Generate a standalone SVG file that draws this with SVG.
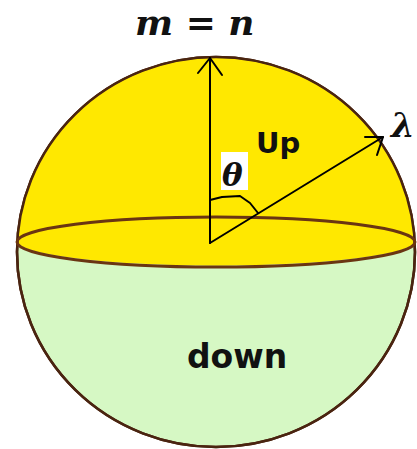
<svg xmlns="http://www.w3.org/2000/svg" width="417" height="449" viewBox="0 0 417 449">
<style>
.sph{stroke:#4a2410;stroke-width:2.5}
.eq{fill:none;stroke:#6a3512;stroke-width:3}
.ln{fill:none;stroke:#000;stroke-width:2;stroke-linecap:round;stroke-linejoin:round}
.math{font-family:"DejaVu Serif",serif;font-weight:bold;font-style:italic;fill:#111}
.lbl{font-family:"DejaVu Sans",sans-serif;font-weight:bold;fill:#111}
</style>
<rect width="417" height="449" fill="#fff"/>
<g id="sphere">
<ellipse cx="216" cy="252" rx="199" ry="195" fill="#d6f8c4" class="sph"/>
<path d="M17.3,242 A199,195 0 0 1 414.7,242 A199,25 0 0 1 17.3,242 Z" fill="#ffe800"/>
<ellipse cx="216" cy="252" rx="199" ry="195" fill="none" class="sph"/>
<ellipse cx="216" cy="242" rx="199" ry="25" class="eq"/>
</g>
<g id="connectors">
<line x1="210" y1="243" x2="210" y2="58" class="ln"/>
<polyline points="198,73 210,58 222,75" class="ln"/>
<line x1="210" y1="243" x2="383" y2="137" class="ln"/>
<polyline points="365,137 383,137 377,155" class="ln"/>
<path d="M210,200 L222,197 L240,196 L250,203 L258,213" class="ln"/>
</g>
<g id="labels">
<text x="135" y="35" class="math" font-size="36">m = n</text>
<text x="391" y="137" class="math" font-size="34">λ</text>
<rect x="221" y="152" width="27" height="38" fill="#fff"/>
<text x="222" y="186" class="math" font-size="31">θ</text>
<text x="256" y="153" class="lbl" font-size="29">Up</text>
<text x="187" y="368" class="lbl" font-size="33">down</text>
</g>
</svg>
